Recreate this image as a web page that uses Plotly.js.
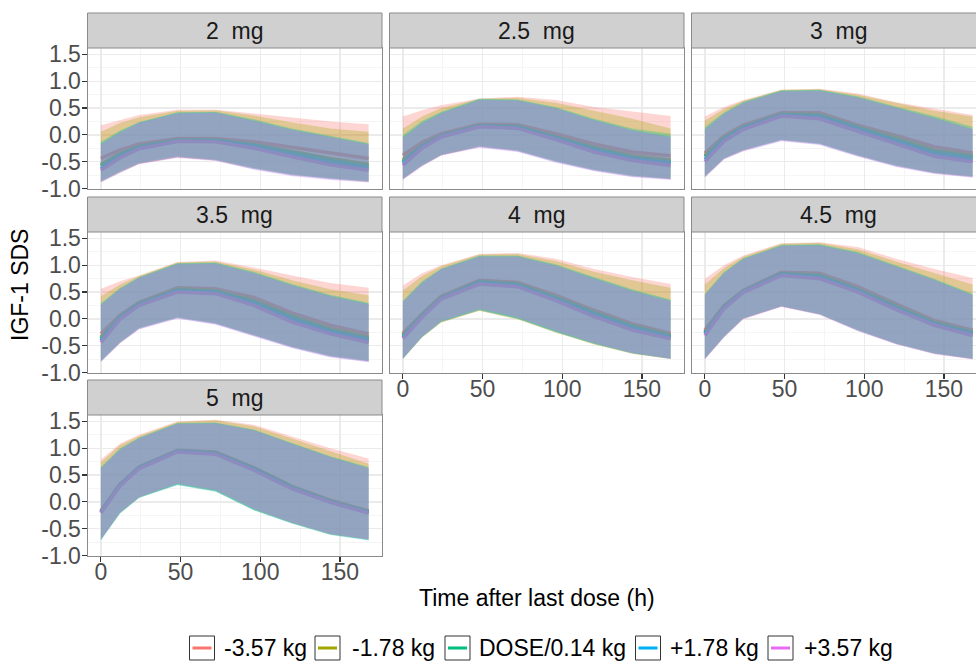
<!DOCTYPE html>
<html>
<head>
<meta charset="utf-8">
<script src="https://cdn.plot.ly/plotly-3.0.1.min.js"></script>
<style>
html,body{margin:0;padding:0;overflow:hidden;background:#fff;}
#chart{width:987px;height:661px;}
</style>
</head>
<body>
<div id="chart"></div>
<script>
// ---------- data ----------
const times = [0, 12, 24, 48, 72, 96, 120, 144, 168];
const doseLabels = ['2  mg', '2.5  mg', '3  mg', '3.5  mg', '4  mg', '4.5  mg', '5  mg'];
const groupLabels = ['-3.57 kg', '-1.78 kg', 'DOSE/0.14 kg', '+1.78 kg', '+3.57 kg'];
const groupColors = ['#F8766D', '#A3A500', '#00BF7D', '#00B0F6', '#E76BF3'];
const yTickVals = [-1.0, -0.5, 0.0, 0.5, 1.0, 1.5];
const yTickText = ['-1.0', '-0.5', '0.0', '0.5', '1.0', '1.5'];
const xTickVals = [0, 50, 100, 150];
const xTickText = ['0', '50', '100', '150'];

// 2 mg  (rows: -3.57, -1.78, DOSE/0.14, +1.78, +3.57 kg)
const hi_2 = [
  [0.18, 0.28, 0.37, 0.47, 0.47, 0.40, 0.32, 0.25, 0.20],
  [0.06, 0.22, 0.33, 0.45, 0.46, 0.36, 0.23, 0.12, 0.06],
  [-0.13, 0.08, 0.24, 0.42, 0.43, 0.29, 0.12, -0.02, -0.15],
  [-0.16, 0.06, 0.23, 0.41, 0.42, 0.27, 0.10, -0.04, -0.17],
  [-0.18, 0.04, 0.22, 0.40, 0.41, 0.26, 0.09, -0.05, -0.18]];
const md_2 = [
  [-0.44, -0.28, -0.17, -0.07, -0.07, -0.13, -0.23, -0.34, -0.44],
  [-0.55, -0.35, -0.21, -0.09, -0.09, -0.18, -0.31, -0.44, -0.55],
  [-0.58, -0.37, -0.22, -0.10, -0.10, -0.19, -0.33, -0.47, -0.58],
  [-0.63, -0.41, -0.25, -0.12, -0.12, -0.22, -0.38, -0.53, -0.63],
  [-0.66, -0.43, -0.26, -0.12, -0.13, -0.25, -0.41, -0.56, -0.66]];
const lo_2 = [
  [-0.87, -0.69, -0.54, -0.42, -0.47, -0.62, -0.74, -0.81, -0.87],
  [-0.88, -0.70, -0.54, -0.42, -0.48, -0.63, -0.75, -0.82, -0.88],
  [-0.86, -0.68, -0.52, -0.40, -0.46, -0.62, -0.74, -0.81, -0.86],
  [-0.88, -0.70, -0.54, -0.42, -0.48, -0.64, -0.76, -0.83, -0.88],
  [-0.89, -0.71, -0.55, -0.43, -0.49, -0.65, -0.77, -0.84, -0.89]];

// 2.5 mg
const hi_25 = [
  [0.34, 0.46, 0.55, 0.68, 0.71, 0.65, 0.52, 0.43, 0.35],
  [0.12, 0.34, 0.50, 0.67, 0.69, 0.60, 0.45, 0.30, 0.12],
  [0.00, 0.26, 0.43, 0.68, 0.66, 0.52, 0.30, 0.12, 0.02],
  [-0.04, 0.23, 0.41, 0.66, 0.65, 0.50, 0.28, 0.09, -0.03],
  [-0.06, 0.21, 0.40, 0.65, 0.64, 0.49, 0.27, 0.08, -0.05]];
const md_25 = [
  [-0.38, -0.14, 0.02, 0.20, 0.19, 0.02, -0.17, -0.32, -0.39],
  [-0.47, -0.19, -0.01, 0.18, 0.16, -0.03, -0.23, -0.39, -0.47],
  [-0.50, -0.21, -0.02, 0.17, 0.15, -0.05, -0.25, -0.42, -0.50],
  [-0.53, -0.23, -0.03, 0.16, 0.13, -0.07, -0.29, -0.45, -0.53],
  [-0.57, -0.25, -0.04, 0.15, 0.12, -0.09, -0.32, -0.48, -0.57]];
const lo_25 = [
  [-0.82, -0.57, -0.38, -0.22, -0.29, -0.49, -0.65, -0.76, -0.82],
  [-0.83, -0.58, -0.38, -0.22, -0.30, -0.50, -0.66, -0.77, -0.83],
  [-0.82, -0.56, -0.37, -0.21, -0.29, -0.49, -0.65, -0.76, -0.82],
  [-0.83, -0.58, -0.38, -0.23, -0.31, -0.51, -0.67, -0.78, -0.83],
  [-0.84, -0.59, -0.39, -0.24, -0.32, -0.52, -0.68, -0.79, -0.84]];

// 3 mg
const hi_3 = [
  [0.34, 0.52, 0.65, 0.84, 0.86, 0.77, 0.61, 0.49, 0.37],
  [0.27, 0.48, 0.63, 0.84, 0.85, 0.75, 0.60, 0.45, 0.34],
  [0.15, 0.42, 0.62, 0.83, 0.84, 0.72, 0.53, 0.35, 0.15],
  [0.11, 0.40, 0.60, 0.82, 0.83, 0.70, 0.51, 0.32, 0.11],
  [0.09, 0.39, 0.59, 0.81, 0.82, 0.69, 0.50, 0.31, 0.10]];
const md_3 = [
  [-0.34, -0.02, 0.18, 0.41, 0.41, 0.18, -0.01, -0.22, -0.34],
  [-0.38, -0.05, 0.15, 0.39, 0.38, 0.15, -0.05, -0.28, -0.38],
  [-0.41, -0.07, 0.14, 0.38, 0.36, 0.13, -0.09, -0.31, -0.41],
  [-0.46, -0.10, 0.12, 0.36, 0.33, 0.10, -0.13, -0.36, -0.46],
  [-0.50, -0.12, 0.10, 0.35, 0.30, 0.07, -0.16, -0.40, -0.50]];
const lo_3 = [
  [-0.78, -0.44, -0.29, -0.09, -0.16, -0.38, -0.57, -0.71, -0.78],
  [-0.78, -0.45, -0.29, -0.10, -0.17, -0.39, -0.58, -0.71, -0.78],
  [-0.77, -0.43, -0.28, -0.09, -0.16, -0.38, -0.57, -0.70, -0.77],
  [-0.79, -0.45, -0.30, -0.11, -0.18, -0.40, -0.59, -0.72, -0.79],
  [-0.80, -0.46, -0.31, -0.12, -0.19, -0.41, -0.60, -0.73, -0.80]];

// 3.5 mg
const hi_35 = [
  [0.56, 0.70, 0.81, 1.06, 1.09, 0.96, 0.81, 0.67, 0.58],
  [0.42, 0.64, 0.80, 1.05, 1.07, 0.92, 0.72, 0.55, 0.44],
  [0.29, 0.58, 0.78, 1.04, 1.05, 0.88, 0.65, 0.45, 0.30],
  [0.27, 0.56, 0.77, 1.03, 1.04, 0.86, 0.63, 0.43, 0.28],
  [0.26, 0.55, 0.76, 1.02, 1.03, 0.85, 0.62, 0.42, 0.27]];
const md_35 = [
  [-0.28, 0.07, 0.31, 0.58, 0.56, 0.40, 0.11, -0.12, -0.28],
  [-0.34, 0.04, 0.29, 0.56, 0.53, 0.35, 0.06, -0.18, -0.34],
  [-0.37, 0.03, 0.28, 0.54, 0.51, 0.32, 0.03, -0.21, -0.37],
  [-0.40, 0.01, 0.26, 0.52, 0.49, 0.28, -0.02, -0.25, -0.40],
  [-0.44, -0.01, 0.25, 0.50, 0.47, 0.25, -0.06, -0.28, -0.44]];
const lo_35 = [
  [-0.79, -0.44, -0.17, 0.03, -0.08, -0.30, -0.52, -0.69, -0.79],
  [-0.79, -0.45, -0.18, 0.02, -0.09, -0.31, -0.53, -0.70, -0.79],
  [-0.78, -0.43, -0.17, 0.03, -0.08, -0.30, -0.52, -0.69, -0.78],
  [-0.80, -0.45, -0.19, 0.01, -0.10, -0.32, -0.54, -0.71, -0.80],
  [-0.81, -0.46, -0.20, 0.00, -0.11, -0.33, -0.55, -0.72, -0.81]];

// 4 mg
const hi_4 = [
  [0.62, 0.85, 1.00, 1.21, 1.23, 1.12, 0.93, 0.78, 0.65],
  [0.53, 0.80, 0.98, 1.20, 1.21, 1.08, 0.88, 0.72, 0.58],
  [0.34, 0.70, 0.94, 1.18, 1.18, 1.02, 0.78, 0.55, 0.36],
  [0.32, 0.68, 0.93, 1.17, 1.17, 1.00, 0.76, 0.53, 0.34],
  [0.31, 0.67, 0.92, 1.16, 1.16, 0.99, 0.75, 0.52, 0.33]];
const md_4 = [
  [-0.27, 0.09, 0.42, 0.72, 0.68, 0.44, 0.16, -0.09, -0.27],
  [-0.30, 0.07, 0.40, 0.70, 0.66, 0.41, 0.13, -0.12, -0.30],
  [-0.32, 0.06, 0.39, 0.69, 0.64, 0.39, 0.11, -0.14, -0.32],
  [-0.35, 0.04, 0.38, 0.67, 0.62, 0.36, 0.07, -0.18, -0.35],
  [-0.37, 0.03, 0.37, 0.65, 0.60, 0.34, 0.04, -0.21, -0.37]];
const lo_4 = [
  [-0.75, -0.35, -0.07, 0.15, 0.00, -0.25, -0.47, -0.65, -0.75],
  [-0.75, -0.35, -0.07, 0.15, -0.01, -0.26, -0.48, -0.65, -0.75],
  [-0.74, -0.34, -0.06, 0.16, 0.00, -0.25, -0.47, -0.64, -0.74],
  [-0.75, -0.34, -0.05, 0.17, 0.01, -0.24, -0.46, -0.64, -0.75],
  [-0.74, -0.33, -0.04, 0.19, 0.03, -0.22, -0.45, -0.63, -0.74]];

// 4.5 mg
const hi_45 = [
  [0.75, 1.00, 1.18, 1.41, 1.43, 1.34, 1.12, 0.93, 0.76],
  [0.64, 0.95, 1.16, 1.40, 1.42, 1.30, 1.07, 0.85, 0.64],
  [0.47, 0.88, 1.13, 1.38, 1.39, 1.25, 1.00, 0.75, 0.47],
  [0.45, 0.86, 1.12, 1.37, 1.38, 1.23, 0.98, 0.73, 0.45],
  [0.44, 0.85, 1.11, 1.36, 1.37, 1.22, 0.97, 0.72, 0.44]];
const md_45 = [
  [-0.21, 0.25, 0.53, 0.87, 0.85, 0.60, 0.28, -0.03, -0.21],
  [-0.24, 0.23, 0.52, 0.85, 0.82, 0.56, 0.25, -0.06, -0.24],
  [-0.26, 0.22, 0.51, 0.84, 0.80, 0.54, 0.22, -0.08, -0.26],
  [-0.28, 0.21, 0.50, 0.82, 0.77, 0.52, 0.19, -0.10, -0.28],
  [-0.31, 0.19, 0.49, 0.81, 0.75, 0.50, 0.17, -0.12, -0.31]];
const lo_45 = [
  [-0.75, -0.34, 0.00, 0.23, 0.09, -0.21, -0.46, -0.64, -0.75],
  [-0.75, -0.34, 0.00, 0.23, 0.08, -0.22, -0.47, -0.65, -0.75],
  [-0.74, -0.33, 0.01, 0.24, 0.09, -0.21, -0.46, -0.64, -0.74],
  [-0.75, -0.34, 0.00, 0.23, 0.08, -0.22, -0.47, -0.65, -0.75],
  [-0.76, -0.35, -0.01, 0.22, 0.07, -0.23, -0.48, -0.66, -0.76]];

// 5 mg
const hi_5 = [
  [0.79, 1.09, 1.25, 1.50, 1.53, 1.44, 1.22, 1.00, 0.81],
  [0.74, 1.06, 1.23, 1.49, 1.52, 1.41, 1.18, 0.94, 0.71],
  [0.65, 1.00, 1.20, 1.47, 1.48, 1.35, 1.10, 0.85, 0.65],
  [0.63, 0.98, 1.19, 1.46, 1.47, 1.34, 1.09, 0.84, 0.63],
  [0.62, 0.97, 1.18, 1.45, 1.46, 1.33, 1.08, 0.83, 0.62]];
const md_5 = [
  [-0.17, 0.33, 0.65, 0.96, 0.93, 0.64, 0.29, 0.03, -0.17],
  [-0.18, 0.32, 0.64, 0.95, 0.92, 0.63, 0.28, 0.02, -0.18],
  [-0.19, 0.32, 0.64, 0.95, 0.91, 0.62, 0.27, 0.01, -0.19],
  [-0.20, 0.31, 0.63, 0.94, 0.90, 0.60, 0.25, 0.00, -0.20],
  [-0.21, 0.30, 0.62, 0.93, 0.89, 0.59, 0.24, -0.01, -0.21]];
const lo_5 = [
  [-0.70, -0.20, 0.08, 0.33, 0.21, -0.14, -0.39, -0.60, -0.70],
  [-0.70, -0.21, 0.08, 0.33, 0.20, -0.15, -0.40, -0.61, -0.70],
  [-0.72, -0.22, 0.07, 0.31, 0.19, -0.16, -0.41, -0.62, -0.72],
  [-0.71, -0.21, 0.08, 0.32, 0.20, -0.15, -0.40, -0.61, -0.71],
  [-0.70, -0.20, 0.09, 0.34, 0.22, -0.13, -0.39, -0.60, -0.70]];

const HI = [hi_2, hi_25, hi_3, hi_35, hi_4, hi_45, hi_5];
const MD = [md_2, md_25, md_3, md_35, md_4, md_45, md_5];
const LO = [lo_2, lo_25, lo_3, lo_35, lo_4, lo_45, lo_5];

// ---------- layout geometry (pixels) ----------
const W = 987, H = 661;
const px = x => x / W;
const py = y => 1 - y / H;
const colPx = [[87.5, 382], [389.5, 684], [691.5, 986]];
const rowPx = [[48, 189], [232, 373], [415, 556]];
const stripH = 35;
const ribbonAlpha = 0.3;

function rgba(hex, a) {
  const r = parseInt(hex.slice(1, 3), 16), g = parseInt(hex.slice(3, 5), 16), b = parseInt(hex.slice(5, 7), 16);
  return `rgba(${r},${g},${b},${a})`;
}

const traces = [];
const layout = {
  width: W, height: H,
  margin: {l: 0, r: 0, t: 0, b: 0},
  paper_bgcolor: '#ffffff', plot_bgcolor: '#ffffff',
  font: {family: 'Liberation Sans, Arial, sans-serif', size: 23, color: '#4D4D4D'},
  showlegend: false, hovermode: false,
  shapes: [], annotations: []
};

const tickFont = {family: 'Liberation Sans, Arial, sans-serif', size: 23, color: '#4D4D4D'};
const xLabelPanels = [4, 5, 6];

doseLabels.forEach((lab, i) => {
  const r = Math.floor(i / 3), c = i % 3;
  const sfx = i === 0 ? '' : String(i + 1);
  const xa = 'x' + sfx, ya = 'y' + sfx;
  // lines first (ggplot draws ribbons on top)
  for (let s = 0; s < groupLabels.length; s++) {
    traces.push({
      type: 'scatter', mode: 'lines', x: times, y: MD[i][s],
      xaxis: xa, yaxis: ya, name: groupLabels[s],
      line: {color: groupColors[s], width: 3.5}
    });
  }
  for (let s = 0; s < groupLabels.length; s++) {
    traces.push({
      type: 'scatter', mode: 'lines',
      x: times.concat(times.slice().reverse()),
      y: HI[i][s].concat(LO[i][s].slice().reverse()),
      xaxis: xa, yaxis: ya, name: groupLabels[s],
      fill: 'toself', fillcolor: rgba(groupColors[s], ribbonAlpha),
      line: {width: 0, color: 'rgba(0,0,0,0)'}
    });
  }
  const showX = xLabelPanels.includes(i);
  const showY = c === 0;
  layout['xaxis' + sfx] = {
    domain: [px(colPx[c][0]), px(colPx[c][1])],
    anchor: ya, range: [-8.4, 176.4],
    tickmode: 'array', tickvals: xTickVals, ticktext: xTickText,
    showticklabels: showX, ticks: showX ? 'outside' : '', ticklen: 5, tickwidth: 1.2, tickcolor: '#333333',
    ticklabelstandoff: -10,
    tickfont: tickFont,
    showgrid: true, gridcolor: '#EBEBEB', gridwidth: 1.3,
    minor: {tickmode: 'array', tickvals: [25, 75, 125], showgrid: true, gridcolor: '#F2F2F2', gridwidth: 0.8},
    zeroline: false, showline: true, mirror: true, linecolor: '#8A8A8A', linewidth: 1,
    fixedrange: true
  };
  layout['yaxis' + sfx] = {
    domain: [py(rowPx[r][1]), py(rowPx[r][0])],
    anchor: xa, range: [-1.01, 1.62],
    tickmode: 'array', tickvals: yTickVals, ticktext: yTickText,
    showticklabels: showY, ticks: showY ? 'outside' : '', ticklen: 5, tickwidth: 1.2, tickcolor: '#333333',
    ticklabelstandoff: -4,
    tickfont: tickFont,
    showgrid: true, gridcolor: '#EBEBEB', gridwidth: 1.3,
    minor: {tickmode: 'array', tickvals: [-0.75, -0.25, 0.25, 0.75, 1.25], showgrid: true, gridcolor: '#F2F2F2', gridwidth: 0.8},
    zeroline: false, showline: true, mirror: true, linecolor: '#8A8A8A', linewidth: 1,
    fixedrange: true
  };
  // strip
  layout.shapes.push({
    type: 'rect', xref: 'paper', yref: 'paper',
    x0: px(colPx[c][0]), x1: px(colPx[c][1]),
    y0: py(rowPx[r][0]), y1: py(rowPx[r][0] - stripH),
    fillcolor: '#D0D0D0', line: {color: '#8A8A8A', width: 1}, layer: 'above'
  });
  layout.annotations.push({
    xref: 'paper', yref: 'paper',
    x: px((colPx[c][0] + colPx[c][1]) / 2), y: py(rowPx[r][0] - stripH / 2),
    text: lab, showarrow: false, xanchor: 'center', yanchor: 'middle',
    font: {family: 'Liberation Sans, Arial, sans-serif', size: 23, color: '#1A1A1A'}
  });
});

// axis titles
layout.annotations.push({
  xref: 'paper', yref: 'paper', x: px(20), y: py(285), text: 'IGF-1 SDS', textangle: -90,
  showarrow: false, xanchor: 'center', yanchor: 'middle',
  font: {family: 'Liberation Sans, Arial, sans-serif', size: 23, color: '#000000'}
});
layout.annotations.push({
  xref: 'paper', yref: 'paper', x: px(537), y: py(598), text: 'Time after last dose (h)',
  showarrow: false, xanchor: 'center', yanchor: 'middle',
  font: {family: 'Liberation Sans, Arial, sans-serif', size: 23, color: '#000000'}
});

// legend (ggplot-style keys)
const keyX = [189.5, 315, 445, 635.5, 768];
const textX = [222, 350, 477, 668, 802];
groupLabels.forEach((g, s) => {
  layout.shapes.push({
    type: 'rect', xref: 'paper', yref: 'paper',
    x0: px(keyX[s]), x1: px(keyX[s] + 25), y0: py(660), y1: py(636),
    fillcolor: '#ffffff', line: {color: '#333333', width: 1}
  });
  layout.shapes.push({
    type: 'line', xref: 'paper', yref: 'paper',
    x0: px(keyX[s] + 3), x1: px(keyX[s] + 22), y0: py(648), y1: py(648),
    line: {color: groupColors[s], width: 3}
  });
  layout.annotations.push({
    xref: 'paper', yref: 'paper', x: px(textX[s]), y: py(648), text: g,
    showarrow: false, xanchor: 'left', yanchor: 'middle',
    font: {family: 'Liberation Sans, Arial, sans-serif', size: 23, color: '#000000'}
  });
});

Plotly.newPlot('chart', traces, layout, {staticPlot: true, displayModeBar: false});
</script>
</body>
</html>
